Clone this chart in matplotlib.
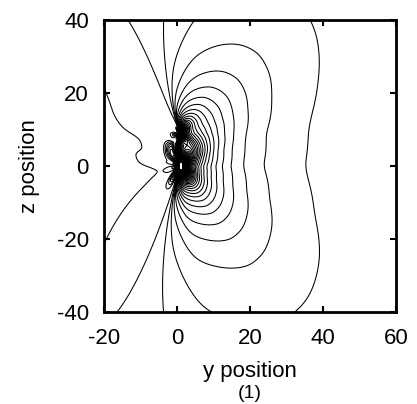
import numpy as np
import matplotlib
matplotlib.use("Agg")
import matplotlib.pyplot as plt

plt.rcParams["font.family"] = ["Liberation Sans", "DejaVu Sans"]
plt.rcParams["axes.unicode_minus"] = False

# size of the contour lobes around the core
# angle in degrees (0 = +y direction), size relative to the lobe on the +y side
lobe_angle = [-180, -176, -170, -160, -150, -140, -131, -124, -116, -110, -104, -97,
              -81, -70, -63, -55, -45, -33, -20, 0, 20, 33, 45, 55, 63, 70, 81,
              97, 104, 110, 116, 124, 132, 138, 144, 155, 165, 175]
lobe_size = [-0.08, 0.0, 0.04, 0.03, -0.04, -0.25, -0.47, -0.72, -0.82, -0.70, 0.0, 0.63,
             1.25, 1.42, 1.52, 1.60, 1.55, 1.38, 1.15, 1.0, 1.15, 1.38, 1.55, 1.60, 1.52, 1.42, 1.2,
             0.6, 0.0, -0.66, -0.78, -0.72, -0.52, -0.41, -0.31, -0.24, -0.27, -0.19]

# the two points where the lines meet in the core
core_y = [0.6, 0.6]
core_z = [9.0, 0.0]
core_weight = [0.3, 0.7]

# contour levels: step and level numbers (no zero line)
level_step = 1 / 67
level_index = [-1] + list(range(-25, -4)) + list(range(1, 61))

y_ticks = [-20, 0, 20, 40, 60]
z_ticks = [-40, -20, 0, 20, 40]

# smooth periodic profile through the lobe sizes
fine = np.arange(-180, 180, 0.5)
prof = np.interp(fine, lobe_angle, lobe_size, period=360)
kern = np.exp(-0.5 * (fine / 3.0) ** 2)
kern = np.roll(kern / kern.sum(), -len(fine) // 2)
prof = np.real(np.fft.ifft(np.fft.fft(prof) * np.fft.fft(kern)))


def profile(a):
    return np.interp(np.degrees(a), fine, prof, period=360)


y = np.linspace(-20, 60, 1001)
z = np.linspace(-40, 40, 1001)
Y, Z = np.meshgrid(y, z)
F = np.zeros_like(Y)
for cy, cz, wt in zip(core_y, core_z, core_weight):
    du = Y - cy
    dw = Z - cz
    r = np.maximum(np.hypot(du, dw), 1e-6)
    F += wt * profile(np.arctan2(dw, du)) / r

fig = plt.figure(figsize=(4.17, 4.04), dpi=100)
ax = fig.add_axes([0.250, 0.2265, 0.700, 0.725])
ax.contour(Y, Z, F, levels=sorted(np.array(level_index) * level_step),
           colors="k", linewidths=0.75, linestyles="solid")

ax.set_xlim(-20, 60)
ax.set_ylim(-40, 40)
ax.set_xticks(y_ticks)
ax.set_yticks(z_ticks)
ax.tick_params(direction="in", top=True, right=True, length=4, width=1.5,
               labelsize=16, pad=11)
for s in ax.spines.values():
    s.set_linewidth(2)
ax.set_xlabel("y position", fontsize=16, labelpad=9)
ax.set_ylabel("z position", fontsize=16, labelpad=12)
fig.text(0.600, 0.014, "(1)", ha="center", va="baseline", fontsize=14)

fig.savefig("out.png", dpi=100)
